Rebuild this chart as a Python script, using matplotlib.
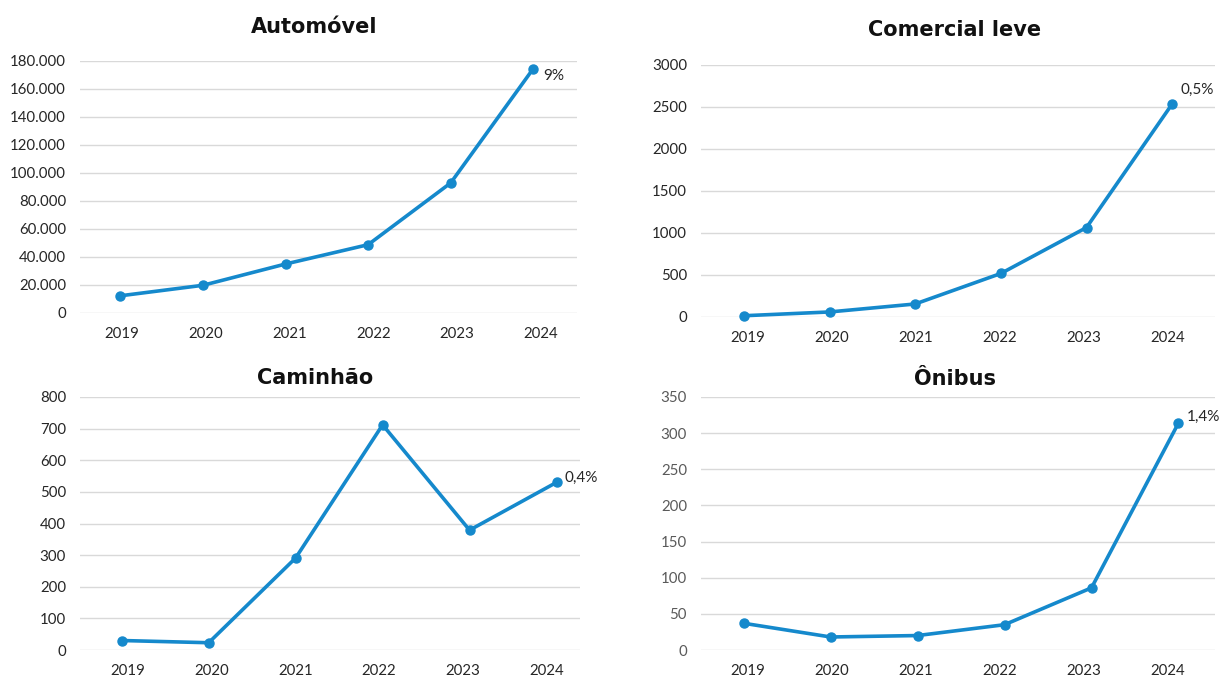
import matplotlib
matplotlib.use("Agg")
import matplotlib.pyplot as plt
from matplotlib.ticker import FuncFormatter, MultipleLocator

plt.rcParams['font.family'] = ['Lato', 'DejaVu Sans']

years = ["2019", "2020", "2021", "2022", "2023", "2024"]

automovel = [12300, 19800, 35000, 48800, 92900, 174500]
comercial_leve = [15, 60, 155, 518, 1065, 2536]
caminhao = [30, 23, 291, 712, 379, 530]
onibus = [37, 18, 20, 35, 86, 314]

titles = ["Automóvel", "Comercial leve", "Caminhão", "Ônibus"]
shares = ["9%", "0,5%", "0,4%", "1,4%"]

LINE = "#1589cc"
GRID = "#d9d9d9"
TEXT = "#262626"

W, H = 1220, 678
fig = plt.figure(figsize=(W / 100, H / 100), dpi=100)


def thousands(v, _):
    return f"{int(v):,}".replace(",", ".")


def rect(left, right, top, bottom):
    return [left / W, 1 - bottom / H, (right - left) / W, (bottom - top) / H]


panels = [
    dict(data=automovel, rect=rect(80, 577, 61, 313), ymax=180000, step=20000,
         fmt=FuncFormatter(thousands), line_xlim=(-0.49, 5.53), label_xlim=(-0.50, 5.43),
         off=(7.2, -5), tick_color=TEXT, title_xy=(314, 27)),
    dict(data=comercial_leve, rect=rect(701, 1215, 65, 317), ymax=3000, step=500,
         fmt=None, line_xlim=(-0.50, 5.50), label_xlim=(-0.56, 5.56),
         off=(5.8, 10), tick_color=TEXT, title_xy=(955, 30)),
    dict(data=caminhao, rect=rect(80, 580, 397, 650), ymax=800, step=100,
         fmt=None, line_xlim=(-0.48, 5.27), label_xlim=(-0.57, 5.40),
         off=(5.8, 2.9), tick_color=TEXT, title_xy=(315, 378)),
    dict(data=onibus, rect=rect(701, 1215, 397, 650), ymax=350, step=50,
         fmt=None, line_xlim=(-0.49, 5.42), label_xlim=(-0.56, 5.56),
         off=(6.0, 4.3), tick_color="#5a5a5a", title_xy=(955, 379)),
]

x = list(range(len(years)))
for p, title, share in zip(panels, titles, shares):
    ax = fig.add_axes(p["rect"])
    ax.plot(x, p["data"], color=LINE, linewidth=2.6, marker="o", markersize=6.5,
            solid_capstyle="round", zorder=3, clip_on=False)
    ax.set_xlim(*p["line_xlim"])
    ax.set_ylim(0, p["ymax"])
    ax.yaxis.set_major_locator(MultipleLocator(p["step"]))
    if p["fmt"] is not None:
        ax.yaxis.set_major_formatter(p["fmt"])
    ax.set_xticks([])
    ax.grid(axis="y", color=GRID, linewidth=1.0)
    ax.set_axisbelow(True)
    for s in ax.spines.values():
        s.set_visible(False)
    ax.tick_params(axis="y", length=0, labelsize=10.8, pad=10, colors=p["tick_color"])

    # category labels along the bottom
    lab = ax.twiny()
    lab.set_xlim(*p["label_xlim"])
    lab.xaxis.set_ticks_position("bottom")
    lab.xaxis.set_label_position("bottom")
    lab.set_xticks(x)
    lab.set_xticklabels(years)
    lab.tick_params(axis="x", length=0, labelsize=10.8, pad=10, colors=TEXT)
    for s in lab.spines.values():
        s.set_visible(False)

    ax.annotate(share, (x[-1], p["data"][-1]), xytext=p["off"], textcoords="offset points",
                ha="left", va="center", fontsize=11, color=TEXT, zorder=4)
    tx, ty = p["title_xy"]
    fig.text(tx / W, 1 - ty / H, title, ha="center", va="center", fontsize=15,
             fontweight="bold", color="#111111", family=["DejaVu Sans"])

fig.savefig("out.png", dpi=100, facecolor="white")
